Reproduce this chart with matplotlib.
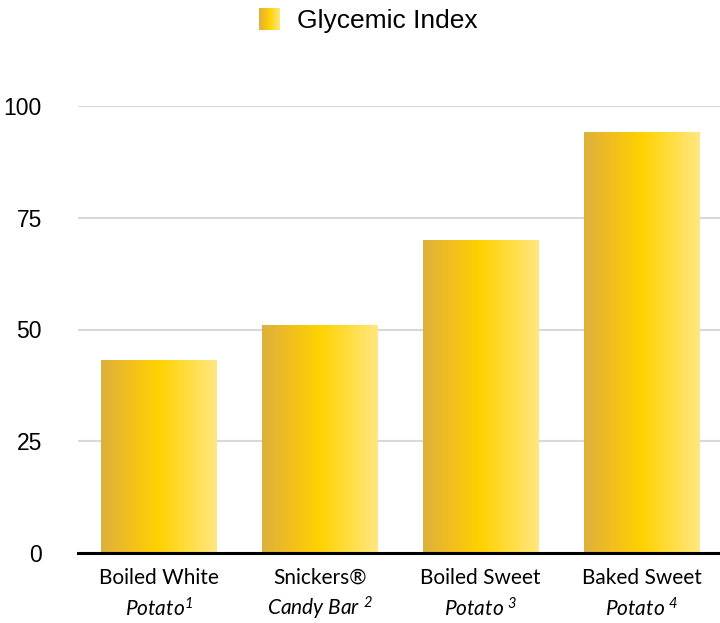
import numpy as np
import matplotlib
matplotlib.use("Agg")
import matplotlib.pyplot as plt
from matplotlib.colors import LinearSegmentedColormap

categories_top = ["Boiled White", "Snickers®", "Boiled Sweet", "Baked Sweet"]
categories_bottom = ["Potato$^{1}$", "Candy Bar $^{2}$", "Potato $^{3}$", "Potato $^{4}$"]
glycemic_index = [43, 51, 70, 94]
y_ticks = [0, 25, 50, 75, 100]

plt.rcParams["mathtext.fontset"] = "custom"
plt.rcParams["mathtext.rm"] = "Lato:italic"
plt.rcParams["mathtext.it"] = "Lato:italic"

gold = LinearSegmentedColormap.from_list(
    "gold", ["#DDB03C", "#F2BF1C", "#FFD200", "#FFDD40", "#FFE782"])
grad = np.linspace(0, 1, 256).reshape(1, -1)

fig = plt.figure(figsize=(7.2, 6.23), dpi=100)
ax = fig.add_axes([78 / 720, 1 - 553 / 623, 1 - 78 / 720 + 0.003, (553 - 106) / 623])

x = np.arange(len(glycemic_index))
width = 0.72
for xi, v in zip(x, glycemic_index):
    ax.imshow(grad, cmap=gold, aspect="auto", zorder=3,
              extent=(xi - width / 2, xi + width / 2, 0, v))

ax.set_xlim(-0.5, len(x) - 0.5)
ax.set_ylim(0, 100)
ax.set_yticks(y_ticks)
ax.set_yticklabels([str(t) for t in y_ticks], family="Liberation Sans", fontsize=16.5)
ax.tick_params(axis="y", length=0, pad=26)
ax.set_xticks([])
ax.yaxis.grid(True, color="#D9D9D9", linewidth=1.5, zorder=0)
ax.set_axisbelow(True)
for s in ["top", "right", "left"]:
    ax.spines[s].set_visible(False)
ax.spines["bottom"].set_linewidth(2.2)
ax.spines["bottom"].set_color("black")
ax.spines["bottom"].set_zorder(5)

trans = ax.get_xaxis_transform()
for xi, t1, t2 in zip(x, categories_top, categories_bottom):
    ax.text(xi, -0.056, t1, transform=trans, ha="center", va="center",
            family="Lato", fontsize=15)
    ax.text(xi, -0.124, t2, transform=trans, ha="center", va="center",
            family="Lato", fontsize=15, style="italic")

# legend
lax = fig.add_axes([259 / 720, 1 - 30 / 623, 21 / 720, 22 / 623])
lax.imshow(grad, cmap=gold, aspect="auto")
lax.axis("off")
fig.text(297 / 720, 1 - 21 / 623, "Glycemic Index", family="Liberation Sans",
         fontsize=19, va="center", ha="left")

fig.savefig("out.png", dpi=100)
